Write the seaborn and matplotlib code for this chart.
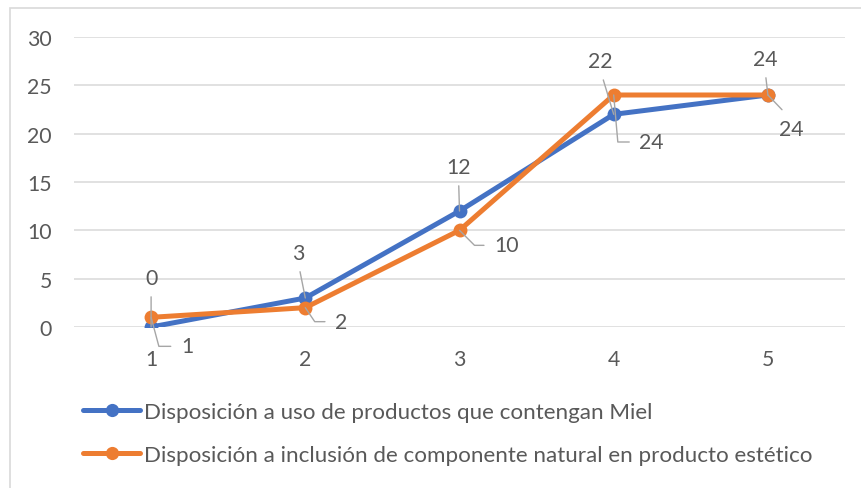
import matplotlib
matplotlib.use("Agg")
import matplotlib.pyplot as plt
import seaborn as sns
import pandas as pd
from matplotlib.patches import Rectangle

# ---- data ----
categories = [1, 2, 3, 4, 5]
serie_miel = [0, 3, 12, 22, 24]
serie_natural = [1, 2, 10, 24, 24]
name_miel = "Disposición a uso de productos que contengan Miel"
name_natural = "Disposición a inclusión de componente natural en producto estético"
y_ticks = [0, 5, 10, 15, 20, 25, 30]

BLUE = "#4472C4"
ORANGE = "#ED7D31"
TXT = "#595959"
GRID = "#D9D9D9"
LEADER = "#A6A6A6"

sns.set_theme(style="white")
plt.rcParams["font.family"] = ["Lato", "DejaVu Sans"]
FS = 15.3
FS_LEG = 16.1

df = pd.DataFrame({
    "x": categories * 2,
    "y": serie_miel + serie_natural,
    "serie": [name_miel] * len(categories) + [name_natural] * len(categories),
})

fig = plt.figure(figsize=(8.61, 4.89), dpi=100)
# chart border
fig.patches.append(Rectangle((10 / 861, -0.1), 1.2, 1 - 9 / 489 + 0.1,
                             transform=fig.transFigure, fill=False,
                             edgecolor="#D9D9D9", linewidth=1.2, zorder=0))

ax = fig.add_axes([74 / 861, 1 - 328 / 489, (845 - 74) / 861, (328 - 38) / 489])
sns.lineplot(data=df, x="x", y="y", hue="serie", palette=[BLUE, ORANGE],
             marker="o", markersize=10, markeredgewidth=0, linewidth=3.6,
             ax=ax, legend=False, zorder=3)

ax.set_xlim(0.5, 5.5)
ax.set_ylim(0, 30)
ax.set_yticks(y_ticks)
ax.set_xticks(categories)
ax.set_xticklabels([str(c) for c in categories])
ax.set_xlabel("")
ax.set_ylabel("")
for s in ax.spines.values():
    s.set_visible(False)
ax.grid(axis="y", color=GRID, linewidth=1.1)
ax.set_axisbelow(True)
ax.tick_params(axis="y", length=0, pad=16, labelsize=FS, labelcolor=TXT)
ax.tick_params(axis="x", length=0, pad=16, labelsize=FS, labelcolor=TXT)

# ---- data labels with leader lines ----
blue_offsets = [(0, 49), (-7, 45), (-1, 44), (-13, 53), (-3, 36)]
orange_offsets = [(36, -29), (36, -14), (47, -15), (38, -47), (23, -34)]
orange_angles = [-75, -56, -45, -85, None]

for xv, yv, off in zip(categories, serie_miel, blue_offsets):
    ax.annotate(str(yv), xy=(xv, yv), xytext=off, textcoords="offset pixels",
                ha="center", va="center", fontsize=FS, color=TXT, zorder=5,
                annotation_clip=False,
                arrowprops=dict(arrowstyle="-", color=LEADER, lw=1.0,
                                shrinkA=4, shrinkB=0, relpos=(0.5, 0)))

for xv, yv, off, ang in zip(categories, serie_natural, orange_offsets, orange_angles):
    if ang is None:
        ap = dict(arrowstyle="-", color=LEADER, lw=1.0, shrinkA=6, shrinkB=0,
                  relpos=(0.5, 1))
    else:
        ap = dict(arrowstyle="-", color=LEADER, lw=1.0, shrinkA=5, shrinkB=0,
                  relpos=(0, 0.5),
                  connectionstyle=f"angle,angleA=0,angleB={ang},rad=0")
    ax.annotate(str(yv), xy=(xv, yv), xytext=off, textcoords="offset pixels",
                ha="center", va="center", fontsize=FS, color=TXT, zorder=5,
                annotation_clip=False, arrowprops=ap)

# ---- legend ----
handles = [
    plt.Line2D([], [], color=BLUE, linewidth=3.6, marker="o", markersize=9.5,
               markeredgewidth=0),
    plt.Line2D([], [], color=ORANGE, linewidth=3.6, marker="o", markersize=9.5,
               markeredgewidth=0),
]
fig.legend(handles, [name_miel, name_natural], loc="center left",
           bbox_to_anchor=(83 / 861, 1 - 434.5 / 489), frameon=False,
           fontsize=FS_LEG, labelcolor=TXT, handlelength=2.55, handletextpad=0.18,
           labelspacing=1.02, borderpad=0, borderaxespad=0)

fig.savefig("out.png", dpi=100, facecolor="white")
